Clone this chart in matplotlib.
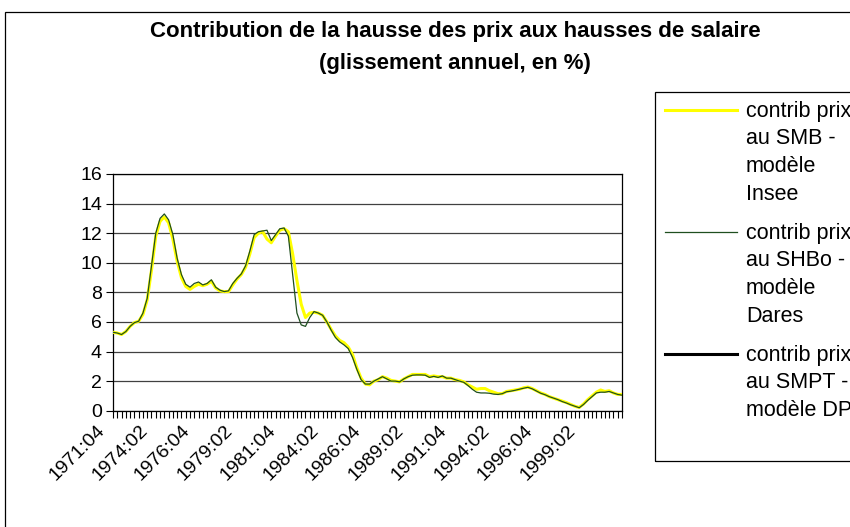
import matplotlib
matplotlib.use("Agg")
import matplotlib.pyplot as plt
from matplotlib.patches import Rectangle
from matplotlib.lines import Line2D
from matplotlib.transforms import ScaledTranslation

plt.rcParams['font.family'] = ['Liberation Sans', 'DejaVu Sans']

W, H = 850, 527

# ---- data ----
first_year, first_quarter, n_points = 1971, 4, 120
categories = []
y_, q_ = first_year, first_quarter
for _ in range(n_points):
    categories.append(f"{y_}:{q_:02d}")
    q_ += 1
    if q_ > 4:
        q_ = 1
        y_ += 1

smb_insee = [5.3, 5.25, 5.15, 5.35, 5.7, 5.95, 6.05, 6.5, 7.5, 9.5,
             11.8, 12.8, 13.1, 12.7, 11.6, 10.1, 9.0, 8.4, 8.2, 8.4,
             8.55, 8.45, 8.55, 8.75, 8.3, 8.1, 8.05, 8.05, 8.5, 8.9,
             9.2, 9.7, 10.6, 11.7, 12.0, 12.1, 11.6, 11.35, 11.8, 12.2,
             12.3, 12.1, 10.6, 8.8, 7.2, 6.3, 6.6, 6.65, 6.6, 6.45,
             6.0, 5.5, 5.05, 4.75, 4.6, 4.3, 3.8, 2.9, 2.2, 1.8,
             1.75, 2.0, 2.1, 2.3, 2.2, 2.05, 2.0, 1.95, 2.15, 2.3,
             2.45, 2.45, 2.45, 2.45, 2.3, 2.35, 2.3, 2.3, 2.2, 2.2,
             2.1, 2.05, 1.95, 1.75, 1.6, 1.45, 1.5, 1.5, 1.35, 1.25,
             1.15, 1.15, 1.3, 1.35, 1.4, 1.45, 1.55, 1.6, 1.5, 1.35,
             1.2, 1.1, 0.95, 0.85, 0.75, 0.65, 0.55, 0.42, 0.3, 0.22,
             0.45, 0.75, 1.0, 1.25, 1.4, 1.3, 1.35, 1.2, 1.1, 1.1]

shbo_dares = [5.3, 5.25, 5.15, 5.35, 5.7, 5.95, 6.05, 6.6, 7.6, 9.8,
              12.0, 13.0, 13.3, 12.9, 11.9, 10.3, 9.2, 8.55, 8.35, 8.6,
              8.7, 8.5, 8.6, 8.85, 8.35, 8.15, 8.05, 8.1, 8.6, 8.95,
              9.25, 9.8, 10.8, 11.9, 12.1, 12.15, 12.2, 11.5, 11.9, 12.3,
              12.35, 11.8, 9.2, 6.6, 5.8, 5.7, 6.3, 6.7, 6.6, 6.45,
              6.0, 5.45, 4.95, 4.65, 4.45, 4.2, 3.6, 2.8, 2.1, 1.8,
              1.8, 2.0, 2.15, 2.3, 2.15, 2.0, 2.0, 1.95, 2.15, 2.3,
              2.4, 2.42, 2.42, 2.4, 2.25, 2.32, 2.25, 2.35, 2.2, 2.2,
              2.1, 2.0, 1.92, 1.7, 1.45, 1.25, 1.2, 1.2, 1.18, 1.12,
              1.1, 1.15, 1.28, 1.32, 1.38, 1.45, 1.52, 1.58, 1.48, 1.33,
              1.18, 1.08, 0.95, 0.85, 0.75, 0.62, 0.52, 0.4, 0.3, 0.2,
              0.42, 0.7, 0.95, 1.2, 1.25, 1.25, 1.3, 1.2, 1.1, 1.05]

smpt_dp = []  # series present in legend, no visible values

series_labels = ["contrib prix\nau SMB -\nmodèle\nInsee",
                 "contrib prix\nau SHBo -\nmodèle\nDares",
                 "contrib prix\nau SMPT -\nmodèle DP"]
series_colors = ["#FFFF00", "#1F4F1F", "#000000"]
y_ticks = [0, 2, 4, 6, 8, 10, 12, 14, 16]
label_step = 10

title_lines = ["Contribution de la hausse des prix aux hausses de salaire",
               "(glissement annuel, en %)"]

# ---- figure ----
fig = plt.figure(figsize=(W / 100, H / 100), dpi=100)

def fx(x):
    return x / W

def fy(y):
    return 1 - y / H

# outer chart border
fig.add_artist(Rectangle((fx(5), fy(540)), fx(905) - fx(5), fy(12) - fy(540),
                         transform=fig.transFigure, fill=False,
                         edgecolor="black", lw=0.9, clip_on=False))

left, right, top, bottom = 113, 622, 174, 410.7
ax = fig.add_axes([fx(left), fy(bottom), fx(right) - fx(left), fy(top) - fy(bottom)])

xs = list(range(len(categories)))
ax.plot(xs, smb_insee, color=series_colors[0], lw=2.2, solid_joinstyle="round", zorder=3)
ax.plot(xs, shbo_dares, color=series_colors[1], lw=0.9, zorder=4)
ax.plot(list(range(len(smpt_dp))), smpt_dp, color=series_colors[2], lw=2.0, zorder=5)

ax.set_xlim(0, len(categories) - 1)
ax.set_ylim(0, 16)
ax.set_yticks(y_ticks)
ax.set_yticklabels([str(v) for v in y_ticks], fontsize=14)
ax.grid(axis="y", color="#404040", lw=0.9)
ax.set_axisbelow(True)

ax.set_xticks(xs)
ax.set_xticklabels([c if i % label_step == 0 else "" for i, c in enumerate(categories)],
                   rotation=45, ha="right", va="top", rotation_mode="anchor", fontsize=14)
ax.tick_params(axis="x", length=5, width=0.8, color="black", pad=3)
ax.tick_params(axis="y", length=5, width=0.8, color="black", pad=3)
shift = ScaledTranslation(-17 / 100, 0, fig.dpi_scale_trans)
for lbl in ax.get_xticklabels():
    lbl.set_transform(lbl.get_transform() + shift)

for s in ax.spines.values():
    s.set_color("black")
    s.set_linewidth(0.9)

# titles
fig.text(fx(455), fy(31), title_lines[0], ha="center", va="center",
         fontsize=16, fontweight="bold")
fig.text(fx(455), fy(64), title_lines[1], ha="center", va="center",
         fontsize=16, fontweight="bold")

# legend (manual, extends beyond the right edge like the original)
fig.add_artist(Rectangle((fx(655), fy(461)), fx(900) - fx(655), fy(92) - fy(461),
                         transform=fig.transFigure, fill=False,
                         edgecolor="black", lw=0.9, clip_on=False))
entry_tops = [111, 233, 355]
line_widths = [2.2, 0.9, 2.2]
for lab, col, lw, yt in zip(series_labels, series_colors, line_widths, entry_tops):
    fig.add_artist(Line2D([fx(665), fx(737)], [fy(yt - 1), fy(yt - 1)],
                          transform=fig.transFigure, color=col, lw=lw))
    for k, ln in enumerate(lab.split("\n")):
        fig.text(fx(746), fy(yt + 27.7 * k), ln, ha="left", va="center", fontsize=15.5)

fig.savefig("out.png", dpi=100)
